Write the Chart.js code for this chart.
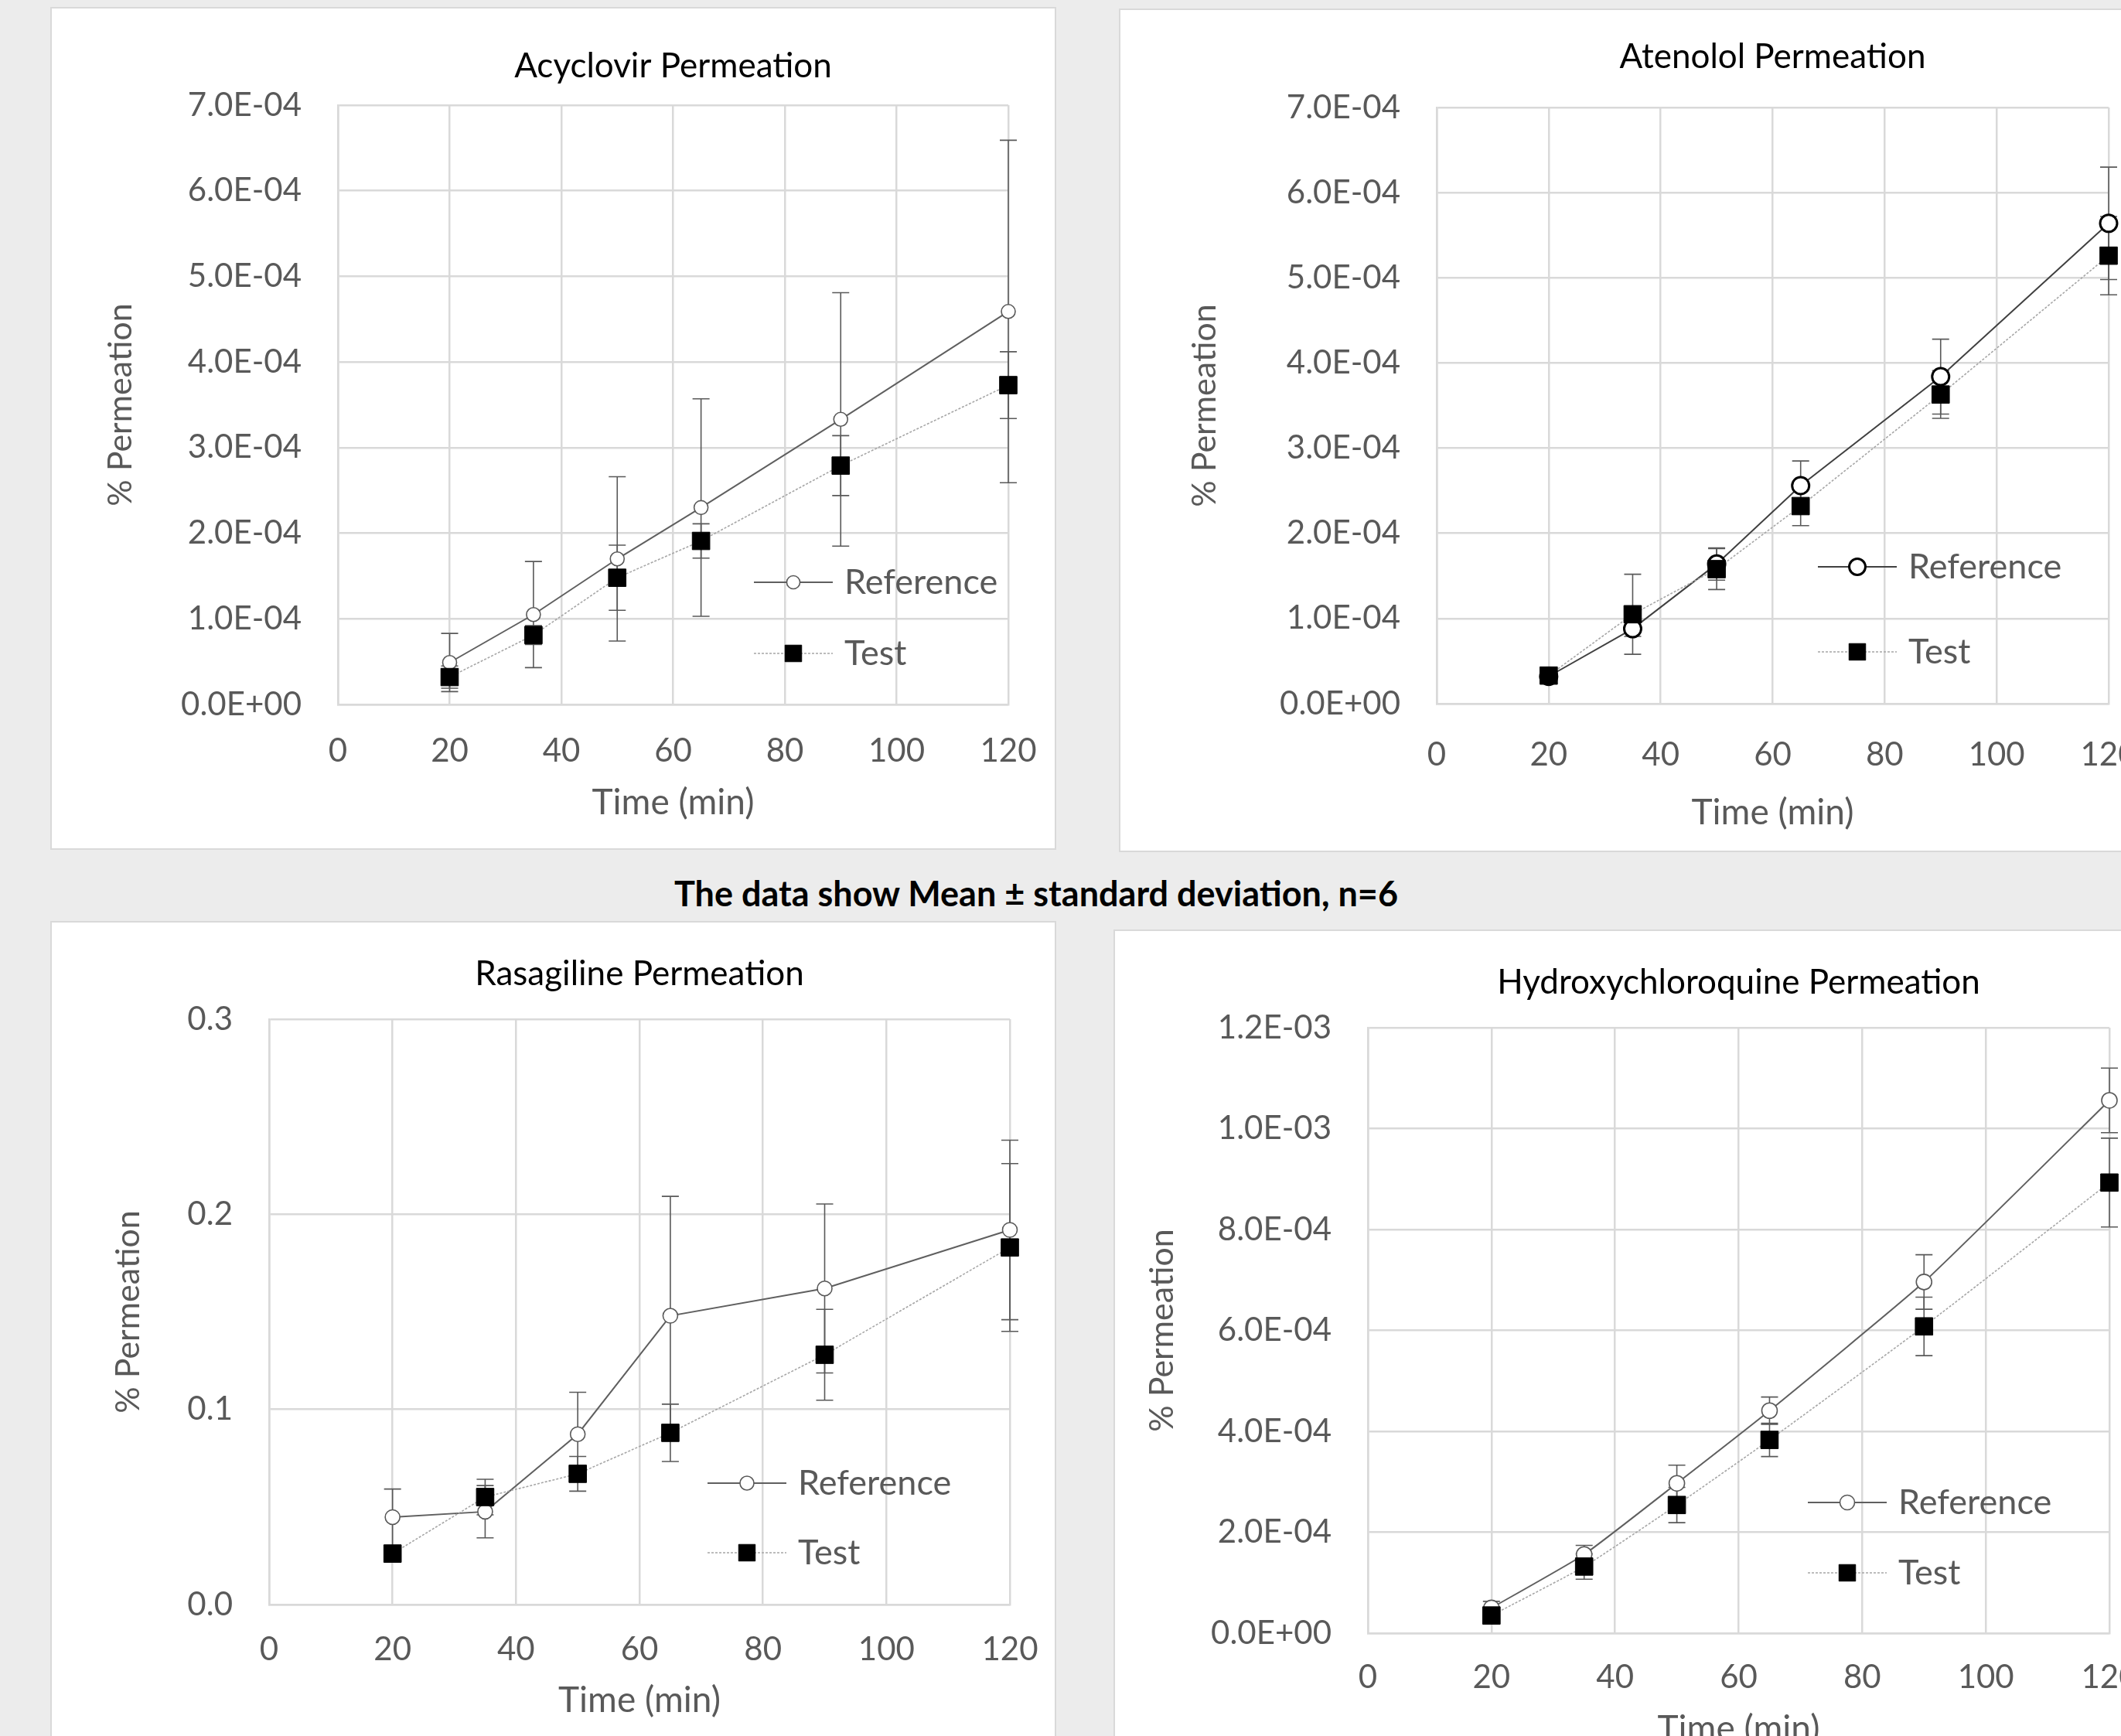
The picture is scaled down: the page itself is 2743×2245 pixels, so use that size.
<!DOCTYPE html>
<html>
<head>
<meta charset="utf-8">
<script src="https://cdn.jsdelivr.net/npm/chart.js@4.4.1/dist/chart.umd.min.js"></script>
<style>
  html, body { margin: 0; padding: 0; }
  body { width: 2743px; height: 2245px; overflow: hidden; background: #ececec; position: relative; font-family: Lato, sans-serif; }
  .panel { position: absolute; background: #fff; border: 2px solid #d9d9d9; box-sizing: border-box; }
  .panel canvas { position: absolute; left: -2px; top: -2px; }
  #caption { position: absolute; left: 0; width: 2680px; top: 1128px; line-height: 54px; text-align: center; font-weight: bold; font-size: 45px; color: #000; }
</style>
</head>
<body>
<div class="panel" id="p1"><canvas id="c1"></canvas></div>
<div class="panel" id="p2"><canvas id="c2"></canvas></div>
<div class="panel" id="p3"><canvas id="c3"></canvas></div>
<div class="panel" id="p4"><canvas id="c4"></canvas></div>
<div id="caption">The data show Mean ± standard deviation, n=6</div>
<script>
// sampling times (min) and x axis ticks, shared by all four panels
const times = [20, 35, 50, 65, 90, 120];
const xTicks = [0, 20, 40, 60, 80, 100, 120];
const seriesNames = ['Reference', 'Test'];

// Acyclovir
const acyRef    = [4.9e-5, 1.05e-4, 1.70e-4, 2.30e-4, 3.33e-4, 4.59e-4];
const acyRefSD  = [3.4e-5, 6.2e-5, 9.6e-5, 1.27e-4, 1.48e-4, 2.0e-4];
const acyTest   = [3.2e-5, 8.1e-5, 1.48e-4, 1.91e-4, 2.79e-4, 3.73e-4];
const acyTestSD = [1.3e-5, 1.1e-5, 3.8e-5, 2.0e-5, 3.5e-5, 3.9e-5];
const acyYTicks = [0, 1e-4, 2e-4, 3e-4, 4e-4, 5e-4, 6e-4, 7e-4];

// Atenolol
const ateRef    = [3.2e-5, 8.8e-5, 1.64e-4, 2.56e-4, 3.84e-4, 5.64e-4];
const ateRefSD  = [3e-6, 9e-6, 1.9e-5, 2.9e-5, 4.4e-5, 6.6e-5];
const ateTest   = [3.3e-5, 1.05e-4, 1.58e-4, 2.32e-4, 3.63e-4, 5.26e-4];
const ateTestSD = [4e-6, 4.7e-5, 2.4e-5, 2.3e-5, 2.8e-5, 4.6e-5];
const ateYTicks = [0, 1e-4, 2e-4, 3e-4, 4e-4, 5e-4, 6e-4, 7e-4];

// Rasagiline
const rasRef    = [0.0448, 0.0476, 0.0873, 0.148, 0.162, 0.192];
const rasRefSD  = [0.0144, 0.0134, 0.0215, 0.0612, 0.0433, 0.046];
const rasTest   = [0.0261, 0.0551, 0.0670, 0.0880, 0.128, 0.183];
const rasTestSD = [0.002, 0.0091, 0.0089, 0.0147, 0.0233, 0.043];
const rasYTicks = [0, 0.1, 0.2, 0.3];

// Hydroxychloroquine
const hcqRef    = [5.0e-5, 1.56e-4, 2.97e-4, 4.41e-4, 6.96e-4, 1.056e-3];
const hcqRefSD  = [1.3e-5, 1.8e-5, 3.6e-5, 2.7e-5, 5.4e-5, 6.4e-5];
const hcqTest   = [3.5e-5, 1.32e-4, 2.54e-4, 3.83e-4, 6.08e-4, 8.93e-4];
const hcqTestSD = [8e-6, 2.5e-5, 3.5e-5, 3.3e-5, 5.8e-5, 8.8e-5];
const hcqYTicks = [0, 2e-4, 4e-4, 6e-4, 8e-4, 1e-3, 1.2e-3];

const GREY = '#595959';
const GRID = '#d9d9d9';

// 7.0E-04 style labels, like the spreadsheet axis
function sci(v) {
  if (v === 0) return '0.0E+00';
  const parts = v.toExponential(1).split('e');
  const n = parseInt(parts[1], 10);
  return parts[0] + 'E' + (n < 0 ? '-' : '+') + String(Math.abs(n)).padStart(2, '0');
}
function fixed1(v) { return v.toFixed(1); }

// vertical mean +/- SD bars, drawn under the markers
const errorBars = {
  id: 'errorBars',
  beforeDatasetsDraw(chart, args, opts) {
    const ctx = chart.ctx, xs = chart.scales.x, ys = chart.scales.y;
    ctx.save();
    ctx.strokeStyle = GREY;
    ctx.lineWidth = 1.6;
    chart.data.datasets.forEach((ds, d) => {
      const sd = opts.sd[d];
      ds.data.forEach((p, i) => {
        const px = xs.getPixelForValue(p.x);
        const top = ys.getPixelForValue(p.y + sd[i]);
        const bot = ys.getPixelForValue(p.y - sd[i]);
        ctx.beginPath();
        ctx.moveTo(px, top); ctx.lineTo(px, bot);
        ctx.moveTo(px - 11, top); ctx.lineTo(px + 11, top);
        ctx.moveTo(px - 11, bot); ctx.lineTo(px + 11, bot);
        ctx.stroke();
      });
    });
    ctx.restore();
  }
};

// legend sitting inside the plot area, lower right
const insideLegend = {
  id: 'insideLegend',
  afterDatasetsDraw(chart, args, o) {
    const ctx = chart.ctx;
    chart.data.datasets.forEach((ds, i) => {
      const y = o.rows[i];
      ctx.save();
      ctx.strokeStyle = ds.borderColor;
      ctx.lineWidth = ds.borderWidth;
      ctx.setLineDash(ds.borderDash || []);
      ctx.beginPath();
      ctx.moveTo(o.x, y);
      ctx.lineTo(o.x + o.len, y);
      ctx.stroke();
      ctx.setLineDash([]);
      ctx.fillStyle = ds.pointBackgroundColor;
      ctx.strokeStyle = ds.pointBorderColor;
      ctx.lineWidth = ds.pointBorderWidth;
      Chart.helpers.drawPoint(ctx, {
        pointStyle: ds.pointStyle, radius: ds.pointRadius * 0.95, rotation: 0, borderWidth: ds.pointBorderWidth
      }, o.x + o.len / 2, y);
      ctx.fillStyle = GREY;
      ctx.font = '45px Lato';
      ctx.textAlign = 'left';
      ctx.textBaseline = 'middle';
      ctx.fillText(ds.label, o.x + o.len + 15, y);
      ctx.restore();
    });
  }
};

// page geometry of each panel: box, plot area, text centres, legend
const panels = [
  { id: 'c1', box: [65, 9, 1301, 1090], area: [437, 136, 1304, 911],
    titleY: 86, yTitleX: 156, xTickY: 971, xTitleY: 1038, legend: [975, 753, 845] },
  { id: 'c2', box: [1447, 11, 1342, 1091], area: [1858, 139, 2727, 910],
    titleY: 74, yTitleX: 1558, xTickY: 976, xTitleY: 1051, legend: [2351, 733, 843] },
  { id: 'c3', box: [65, 1191, 1301, 1072], area: [348, 1318, 1306, 2075],
    titleY: 1260, yTitleX: 166, xTickY: 2133, xTitleY: 2199, legend: [915, 1918, 2008] },
  { id: 'c4', box: [1440, 1202, 1350, 1098], area: [1769, 1329, 2728, 2112],
    titleY: 1271, yTitleX: 1503, xTickY: 2169, xTitleY: 2236, legend: [2338, 1943, 2034] }
];

function makeChart(p, title, yTicks, fmt, ref, refSD, test, testSD, st) {
  const [bx, by, bw, bh] = p.box;
  const [al, at, ar, ab] = p.area;
  const panel = document.getElementById('p' + p.id.slice(1));
  Object.assign(panel.style, { left: bx + 'px', top: by + 'px', width: bw + 'px', height: bh + 'px' });
  const cv = document.getElementById(p.id);
  cv.width = bw; cv.height = bh;
  cv.style.width = bw + 'px'; cv.style.height = bh + 'px';

  const titleLH = 44 * 1.2, xTitleLH = 46 * 1.2, yTitleLH = 43 * 1.2;
  const titleTop = p.titleY - by - titleLH / 2;
  // x labels: no tick padding (it would widen the right margin), the line height sets the drop instead
  const xTickLH = 2 * (p.xTickY - ab) / 42;

  return new Chart(cv, {
    type: 'line',
    data: {
      datasets: [
        {
          label: seriesNames[0],
          data: times.map((t, i) => ({ x: t, y: ref[i] })),
          borderColor: st.refLine, borderWidth: 2,
          pointStyle: 'circle', pointRadius: st.refR,
          pointBackgroundColor: '#fff', pointBorderColor: st.refEdge, pointBorderWidth: st.refEdgeW,
          tension: st.tension, clip: false, order: 1
        },
        {
          label: seriesNames[1],
          data: times.map((t, i) => ({ x: t, y: test[i] })),
          borderColor: '#a6a6a6', borderWidth: 1.6, borderDash: [3, 2],
          pointStyle: 'rect', pointRadius: 16,
          pointBackgroundColor: '#000', pointBorderColor: '#000', pointBorderWidth: 1,
          tension: st.tension, clip: false, order: 0
        }
      ]
    },
    options: {
      responsive: false,
      devicePixelRatio: 1,
      animation: false,
      events: [],
      layout: { padding: { left: 0, top: 0, bottom: 0, right: bx + bw - ar } },
      plugins: {
        legend: { display: false },
        tooltip: { enabled: false },
        title: {
          display: true, text: title, fullSize: false, color: '#000',
          font: { family: 'Lato', size: 44, weight: 'normal', lineHeight: 1.2 },
          padding: { top: titleTop, bottom: (at - by) - titleTop - titleLH }
        },
        errorBars: { sd: [refSD, testSD] },
        insideLegend: { x: p.legend[0] - bx, len: 102, rows: [p.legend[1] - by, p.legend[2] - by] }
      },
      scales: {
        x: {
          type: 'linear', min: 0, max: 120,
          afterBuildTicks: s => { s.ticks = xTicks.map(v => ({ value: v })); },
          afterFit: s => { s.height = by + bh - ab; },
          grid: { color: GRID, lineWidth: 2.5, drawTicks: false },
          border: { color: GRID, width: 2.5 },
          ticks: { autoSkip: false, maxRotation: 0, padding: 0, color: GREY,
                   font: { family: 'Lato', size: 42, lineHeight: xTickLH } },
          title: { display: true, text: 'Time (min)', color: GREY, font: { family: 'Lato', size: 46, lineHeight: 1.2 },
                   padding: { top: 0, bottom: by + bh - p.xTitleY - xTitleLH / 2 } }
        },
        y: {
          type: 'linear', min: 0, max: yTicks[yTicks.length - 1],
          afterBuildTicks: s => { s.ticks = yTicks.map(v => ({ value: v })); },
          afterFit: s => { s.width = al - bx; },
          grid: { color: GRID, lineWidth: 2.5, drawTicks: false },
          border: { color: GRID, width: 2.5 },
          ticks: { autoSkip: false, padding: 47, color: GREY, font: { family: 'Lato', size: 42 },
                   callback: v => fmt(v) },
          title: { display: true, text: '% Permeation', color: GREY, font: { family: 'Lato', size: 43, lineHeight: 1.2 },
                   padding: { top: p.yTitleX - bx - yTitleLH / 2, bottom: 0 } }
        }
      }
    },
    plugins: [errorBars, insideLegend]
  });
}

const plain = { refLine: '#5f5f5f', refR: 9, refEdge: GREY, refEdgeW: 1.6, tension: 0 };

makeChart(panels[0], 'Acyclovir Permeation', acyYTicks, sci, acyRef, acyRefSD, acyTest, acyTestSD, plain);
makeChart(panels[1], 'Atenolol Permeation', ateYTicks, sci, ateRef, ateRefSD, ateTest, ateTestSD,
  { refLine: '#404040', refR: 11, refEdge: '#000', refEdgeW: 3, tension: 0 });
makeChart(panels[2], 'Rasagiline Permeation', rasYTicks, fixed1, rasRef, rasRefSD, rasTest, rasTestSD,
  Object.assign({}, plain, { refR: 9.5 }));
makeChart(panels[3], 'Hydroxychloroquine Permeation', hcqYTicks, sci, hcqRef, hcqRefSD, hcqTest, hcqTestSD,
  Object.assign({}, plain, { refR: 10, tension: 0.15 }));
</script>
</body>
</html>
